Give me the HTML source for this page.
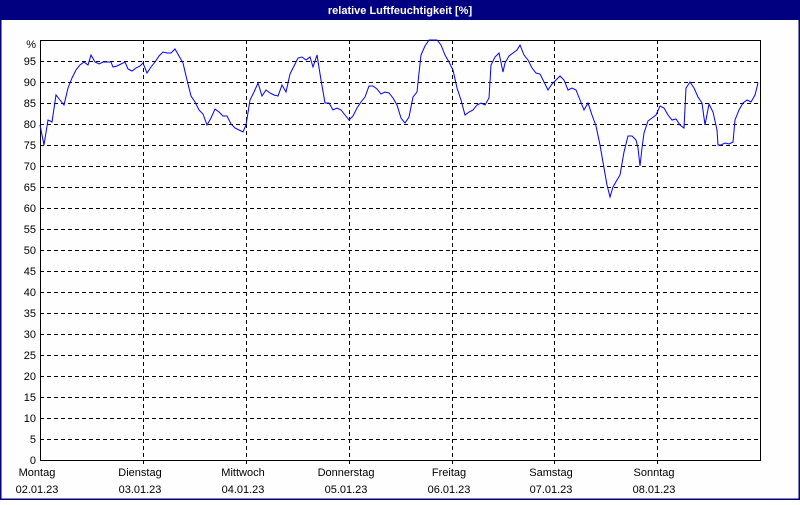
<!DOCTYPE html>
<html><head><style>
body{margin:0;width:800px;height:500px;overflow:hidden;background:#fff}
</style></head><body>
<svg width="800" height="500" xmlns="http://www.w3.org/2000/svg" font-family="Liberation Sans, sans-serif" font-size="11">
<rect x="0" y="0" width="800" height="500" fill="#fdfefd"/>
<rect x="0.5" y="0.5" width="799" height="499" fill="none" stroke="#000080" stroke-width="2"/>
<rect x="0" y="0" width="800" height="20" fill="#000080"/>
<text x="400" y="14" fill="#fff" font-weight="bold" text-anchor="middle">relative Luftfeuchtigkeit [%]</text>
<g stroke="#000" stroke-dasharray="4,3" stroke-width="1">
<path d="M40 61.5H760M40 82.5H760M40 103.5H760M40 124.5H760M40 145.5H760M40 166.5H760M40 187.5H760M40 208.5H760M40 229.5H760M40 250.5H760M40 271.5H760M40 292.5H760M40 313.5H760M40 334.5H760M40 355.5H760M40 376.5H760M40 397.5H760M40 418.5H760M40 439.5H760"/>
<path d="M143.5 40V465M246.5 40V465M349.5 40V465M452.5 40V465M554.5 40V465M657.5 40V465"/>
</g>
<rect x="40.5" y="40.5" width="720" height="420" fill="none" stroke="#000"/>
<g text-anchor="end" fill="#000">
<text x="36" y="48">%</text><text x="36" y="65">95</text><text x="36" y="86">90</text><text x="36" y="107">85</text><text x="36" y="128">80</text><text x="36" y="149">75</text><text x="36" y="170">70</text><text x="36" y="191">65</text><text x="36" y="212">60</text><text x="36" y="233">55</text><text x="36" y="254">50</text><text x="36" y="275">45</text><text x="36" y="296">40</text><text x="36" y="317">35</text><text x="36" y="338">30</text><text x="36" y="359">25</text><text x="36" y="380">20</text><text x="36" y="401">15</text><text x="36" y="422">10</text><text x="36" y="443">5</text><text x="36" y="464">0</text>
</g>
<g text-anchor="middle" fill="#000">
<text x="37" y="476">Montag</text><text x="37" y="493">02.01.23</text>
<text x="140" y="476">Dienstag</text><text x="140" y="493">03.01.23</text>
<text x="243" y="476">Mittwoch</text><text x="243" y="493">04.01.23</text>
<text x="346" y="476">Donnerstag</text><text x="346" y="493">05.01.23</text>
<text x="449" y="476">Freitag</text><text x="449" y="493">06.01.23</text>
<text x="551" y="476">Samstag</text><text x="551" y="493">07.01.23</text>
<text x="654" y="476">Sonntag</text><text x="654" y="493">08.01.23</text>
</g>
<polyline fill="none" stroke="#0000ff" stroke-width="1" points="40,125 44,145 48,120 52,122 56,95 60,100 64,105 68,88 72,78 76,70 80,65 84,62 88,65 91,55 95,62 99,64 103,62 107,62 111,62 113,67 117,66 121,64 125,62 128,69 132,71 136,68 140,66 143,63 147,73 151,67 155,62 159,56 163,52 167,53 171,53 175,49 179,56 183,63 187,80 191,96 195,102 199,110 203,114 207,125 211,118 215,109 219,112 223,116 227,116 231,124 235,128 239,130 243,132 246,125 250,100 254,92 258,83 262,96 266,90 270,93 274,95 278,96 282,85 286,92 290,74 294,66 298,58 302,57 306,60 310,57 313,67 317,55 321,80 325,103 329,103 333,110 337,108 341,110 345,115 349,120 353,116 357,108 361,102 365,97 369,86 373,86 377,89 381,94 385,92 389,93 393,98 397,105 401,118 405,123 409,117 413,97 417,92 419,73 421,55 425,46 429,40 437,40 441,45 445,55 449,62 453,70 457,88 461,100 465,115 469,112 473,110 477,105 481,103 485,105 489,98 491,65 495,57 499,53 503,72 505,63 509,56 513,53 517,50 520,45 524,55 528,60 532,68 536,73 540,74 544,82 548,90 552,84 556,80 560,76 564,80 568,90 572,88 576,90 580,100 584,110 588,103 592,115 596,126 600,145 604,168 607,185 610,197 613,187 617,180 620,175 624,152 628,136 632,136 636,140 638,148 640,166 642,148 644,133 648,121 652,118 656,115 660,106 664,108 668,115 672,120 676,119 680,125 684,128 686,88 690,82 694,88 698,97 702,103 705,125 709,104 713,112 717,130 718,145 721,145 725,143 729,144 733,142 735,120 739,110 743,103 747,100 751,102 755,95 758,83"/>
</svg>
</body></html>
